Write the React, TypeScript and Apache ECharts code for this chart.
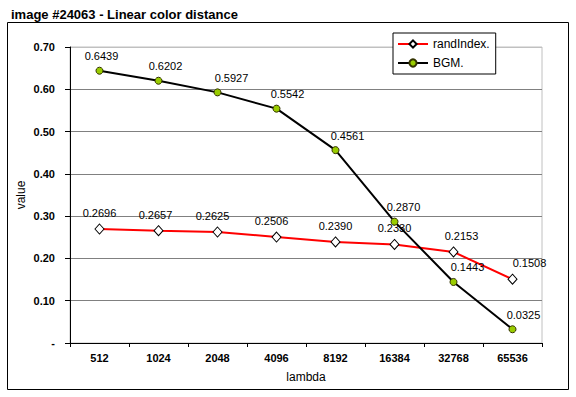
import React, { useEffect, useRef } from "react";
import * as echarts from "echarts";

const categories = ["512", "1024", "2048", "4096", "8192", "16384", "32768", "65536"];
const randIndex = [0.2696, 0.2657, 0.2625, 0.2506, 0.239, 0.233, 0.2153, 0.1508];
const bgm = [0.6439, 0.6202, 0.5927, 0.5542, 0.4561, 0.287, 0.1443, 0.0325];
const yTicks = [0, 0.1, 0.2, 0.3, 0.4, 0.5, 0.6, 0.7];

// horizontal label nudges (px), as placed in the reference
const randLabelDx = [0, -3, -5, -5, 0, 0, 8, 17];
const bgmLabelDx = [2, 7, 14, 11, 12, 9, 14, 11];

const FONT = "Arial, 'Liberation Sans', sans-serif";

export default function App() {
  const ref = useRef<HTMLDivElement>(null);
  useEffect(() => {
    if (!ref.current) return;
    const chart = echarts.init(ref.current, null, { renderer: "svg" });
    const labelCfg = {
      show: true,
      position: "top" as const,
      distance: 5,
      fontFamily: FONT,
      fontSize: 11,
      color: "#000",
      formatter: (p: any) => Number(p.value).toFixed(4),
    };
    const build = (vals: number[], dx: number[]) =>
      vals.map((v, i) => ({ value: v, label: { offset: [dx[i], 0] } }));
    chart.setOption({
      animation: false,
      backgroundColor: "#fff",
      title: {
        text: "image #24063 - Linear color distance",
        left: 6,
        top: 3,
        textStyle: { fontFamily: FONT, fontSize: 13, fontWeight: "bold", color: "#000" },
      },
      graphic: [
        {
          type: "rect",
          shape: { x: 7.5, y: 22.5, width: 561, height: 367 },
          style: { fill: "none", stroke: "#000", lineWidth: 1 },
          z: -1,
        },
      ],
      grid: {
        left: 70,
        right: 34,
        top: 47,
        bottom: 54,
        show: true,
        borderColor: "#c0c0c0",
        borderWidth: 1,
        backgroundColor: "transparent",
      },
      legend: {
        orient: "vertical",
        left: 393,
        top: 33,
        backgroundColor: "#fff",
        borderColor: "#000",
        borderWidth: 1,
        padding: [5, 6, 5, 4],
        itemGap: 7,
        itemWidth: 30,
        itemHeight: 9,
        textStyle: { fontFamily: FONT, fontSize: 12, color: "#000" },
        data: ["randIndex.", "BGM."],
      },
      xAxis: {
        type: "category",
        data: categories,
        boundaryGap: true,
        name: "lambda",
        nameLocation: "middle",
        nameGap: 28,
        nameMoveOverlap: false,
        nameTextStyle: { fontFamily: FONT, fontSize: 12, color: "#000" },
        axisLine: { lineStyle: { color: "#000", width: 1 } },
        axisTick: { show: true, length: 4, lineStyle: { color: "#000" } },
        axisLabel: {
          fontFamily: FONT,
          fontSize: 11,
          fontWeight: "bold",
          color: "#000",
          margin: 9,
          interval: 0,
        },
        splitLine: { show: false },
      },
      yAxis: {
        type: "value",
        min: 0,
        max: 0.7,
        interval: 0.1,
        name: "value",
        nameLocation: "middle",
        nameGap: 43,
        nameMoveOverlap: false,
        nameTextStyle: { fontFamily: FONT, fontSize: 12, color: "#000" },
        axisLine: { show: true, lineStyle: { color: "#000", width: 1 } },
        axisTick: { show: true, length: 5, lineStyle: { color: "#000" } },
        axisLabel: {
          fontFamily: FONT,
          fontSize: 11,
          fontWeight: "bold",
          color: "#000",
          margin: 15,
          formatter: (v: number) => {
            const t = yTicks.find((x) => Math.abs(x - v) < 1e-9);
            const val = t === undefined ? v : t;
            return val === 0 ? "-" : val.toFixed(2);
          },
        },
        splitLine: {
          show: true,
          lineStyle: {
            color: ["#808080", "#808080", "#808080", "#808080", "#808080", "#808080", "#808080", "#c0c0c0"],
            width: 1,
          },
        },
      },
      series: [
        {
          name: "randIndex.",
          type: "line",
          data: build(randIndex, randLabelDx),
          symbol: "diamond",
          symbolSize: [9, 10],
          lineStyle: { color: "#ff0000", width: 2 },
          itemStyle: { color: "#fff", borderColor: "#000", borderWidth: 1 },
          label: labelCfg,
          z: 3,
        },
        {
          name: "BGM.",
          type: "line",
          data: build(bgm, bgmLabelDx),
          symbol: "circle",
          symbolSize: 7,
          lineStyle: { color: "#000", width: 2 },
          itemStyle: { color: "#99cc00", borderColor: "#333300", borderWidth: 1 },
          label: labelCfg,
          z: 4,
        },
      ],
    });
    return () => chart.dispose();
  }, []);
  return <div ref={ref} style={{ width: 576, height: 397, position: "absolute", left: 0, top: 0 }} />;
}
